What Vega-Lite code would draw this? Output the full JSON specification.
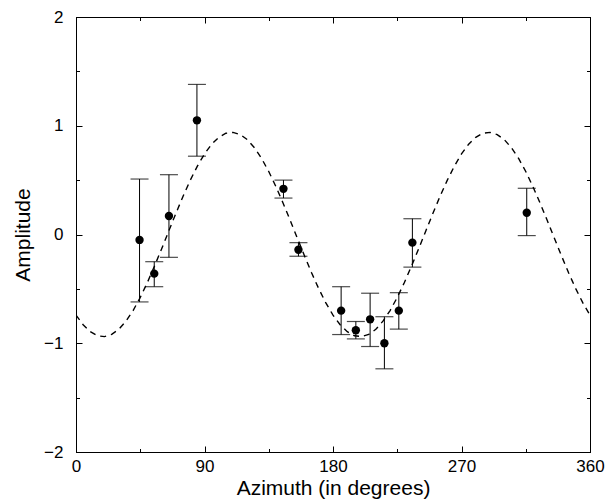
{
  "$schema": "https://vega.github.io/schema/vega-lite/v6.json",
  "autosize": {"type": "none"},
  "padding": {"left": 76, "top": 17, "right": 17, "bottom": 50},
  "width": 514,
  "height": 435,
  "background": "white",
  "config": {
    "view": {"stroke": "black", "strokeWidth": 1},
    "axis": {
      "labelFont": "Liberation Sans",
      "titleFont": "Liberation Sans",
      "labelFontSize": 17,
      "titleFontSize": 21,
      "titleFontWeight": "normal",
      "labelColor": "black",
      "titleColor": "black",
      "domainColor": "black",
      "tickColor": "black",
      "grid": false,
      "labelFlush": false,
      "labelOverlap": false
    }
  },
  "datasets": {
    "curve": [
      {"az": 0, "amp": -0.741}, {"az": 5, "amp": -0.83}, {"az": 10, "amp": -0.894}, {"az": 15, "amp": -0.931},
      {"az": 20, "amp": -0.939}, {"az": 25, "amp": -0.919}, {"az": 30, "amp": -0.872}, {"az": 35, "amp": -0.797},
      {"az": 40, "amp": -0.699}, {"az": 45, "amp": -0.579}, {"az": 50, "amp": -0.441}, {"az": 55, "amp": -0.29},
      {"az": 60, "amp": -0.131}, {"az": 65, "amp": 0.033}, {"az": 70, "amp": 0.195}, {"az": 75, "amp": 0.352},
      {"az": 80, "amp": 0.498}, {"az": 85, "amp": 0.629}, {"az": 90, "amp": 0.741}, {"az": 95, "amp": 0.83},
      {"az": 100, "amp": 0.894}, {"az": 105, "amp": 0.931}, {"az": 110, "amp": 0.939}, {"az": 115, "amp": 0.919},
      {"az": 120, "amp": 0.872}, {"az": 125, "amp": 0.797}, {"az": 130, "amp": 0.699}, {"az": 135, "amp": 0.579},
      {"az": 140, "amp": 0.441}, {"az": 145, "amp": 0.29}, {"az": 150, "amp": 0.131}, {"az": 155, "amp": -0.033},
      {"az": 160, "amp": -0.195}, {"az": 165, "amp": -0.352}, {"az": 170, "amp": -0.498}, {"az": 175, "amp": -0.629},
      {"az": 180, "amp": -0.741}, {"az": 185, "amp": -0.83}, {"az": 190, "amp": -0.894}, {"az": 195, "amp": -0.931},
      {"az": 200, "amp": -0.939}, {"az": 205, "amp": -0.919}, {"az": 210, "amp": -0.872}, {"az": 215, "amp": -0.797},
      {"az": 220, "amp": -0.699}, {"az": 225, "amp": -0.579}, {"az": 230, "amp": -0.441}, {"az": 235, "amp": -0.29},
      {"az": 240, "amp": -0.131}, {"az": 245, "amp": 0.033}, {"az": 250, "amp": 0.195}, {"az": 255, "amp": 0.352},
      {"az": 260, "amp": 0.498}, {"az": 265, "amp": 0.629}, {"az": 270, "amp": 0.741}, {"az": 275, "amp": 0.83},
      {"az": 280, "amp": 0.894}, {"az": 285, "amp": 0.931}, {"az": 290, "amp": 0.939}, {"az": 295, "amp": 0.919},
      {"az": 300, "amp": 0.872}, {"az": 305, "amp": 0.797}, {"az": 310, "amp": 0.699}, {"az": 315, "amp": 0.579},
      {"az": 320, "amp": 0.441}, {"az": 325, "amp": 0.29}, {"az": 330, "amp": 0.131}, {"az": 335, "amp": -0.033},
      {"az": 340, "amp": -0.195}, {"az": 345, "amp": -0.352}, {"az": 350, "amp": -0.498}, {"az": 355, "amp": -0.629},
      {"az": 360, "amp": -0.741}
    ],
    "obs": [
      {"az": 44.5, "amp": -0.05, "lo": -0.62, "hi": 0.51},
      {"az": 54.8, "amp": -0.36, "lo": -0.48, "hi": -0.25},
      {"az": 65.1, "amp": 0.17, "lo": -0.21, "hi": 0.55},
      {"az": 84.7, "amp": 1.05, "lo": 0.72, "hi": 1.38},
      {"az": 145.3, "amp": 0.42, "lo": 0.335, "hi": 0.5},
      {"az": 155.8, "amp": -0.14, "lo": -0.2, "hi": -0.075},
      {"az": 185.7, "amp": -0.7, "lo": -0.92, "hi": -0.48},
      {"az": 196.0, "amp": -0.88, "lo": -0.96, "hi": -0.8},
      {"az": 206.0, "amp": -0.78, "lo": -1.03, "hi": -0.54},
      {"az": 216.0, "amp": -1.0, "lo": -1.235, "hi": -0.756},
      {"az": 226.1, "amp": -0.7, "lo": -0.87, "hi": -0.535},
      {"az": 235.6, "amp": -0.075, "lo": -0.3, "hi": 0.145},
      {"az": 315.7, "amp": 0.2, "lo": -0.01, "hi": 0.425}
    ]
  },
  "resolve": {"axis": {"x": "independent", "y": "independent"}},
  "layer": [
    {
      "data": {"name": "curve"},
      "mark": {"type": "line", "color": "black", "strokeWidth": 1.4, "strokeDash": [6, 5], "clip": true},
      "encoding": {
        "x": {
          "field": "az", "type": "quantitative",
          "scale": {"domain": [0, 360], "nice": false, "zero": false},
          "axis": {
            "orient": "bottom",
            "title": "Azimuth (in degrees)",
            "values": [0, 90, 180, 270, 360],
            "format": "d",
            "tickSize": -6,
            "labelPadding": 12,
            "titlePadding": 3
          }
        },
        "y": {
          "field": "amp", "type": "quantitative",
          "scale": {"domain": [-2, 2], "nice": false, "zero": false},
          "axis": {
            "orient": "left",
            "title": "Amplitude",
            "values": [-2, -1, 0, 1, 2],
            "format": "d",
            "tickSize": -6,
            "labelPadding": 19,
            "titlePadding": 10
          }
        }
      }
    },
    {
      "data": {"name": "obs"},
      "mark": {"type": "rule", "color": "black", "strokeWidth": 1},
      "encoding": {
        "x": {
          "field": "az", "type": "quantitative",
          "axis": {"orient": "top", "title": null, "labels": false, "values": [0, 90, 180, 270, 360], "tickSize": -6}
        },
        "y": {
          "field": "lo", "type": "quantitative",
          "axis": {"orient": "right", "title": null, "labels": false, "values": [-2, -1, 0, 1, 2], "tickSize": -6}
        },
        "y2": {"field": "hi"}
      }
    },
    {
      "data": {"name": "obs"},
      "mark": {"type": "tick", "orient": "horizontal", "color": "black", "size": 18, "thickness": 1.2},
      "encoding": {
        "x": {
          "field": "az", "type": "quantitative",
          "axis": {"orient": "bottom", "title": null, "labels": false, "values": [45, 135, 225, 315], "tickSize": -3.5}
        },
        "y": {
          "field": "lo", "type": "quantitative",
          "axis": {"orient": "left", "title": null, "labels": false, "values": [-1.5, -0.5, 0.5, 1.5], "tickSize": -3.5}
        }
      }
    },
    {
      "data": {"name": "obs"},
      "mark": {"type": "tick", "orient": "horizontal", "color": "black", "size": 18, "thickness": 1.2},
      "encoding": {
        "x": {
          "field": "az", "type": "quantitative",
          "axis": {"orient": "top", "title": null, "labels": false, "values": [45, 135, 225, 315], "tickSize": -3.5}
        },
        "y": {
          "field": "hi", "type": "quantitative",
          "axis": {"orient": "right", "title": null, "labels": false, "values": [-1.5, -0.5, 0.5, 1.5], "tickSize": -3.5}
        }
      }
    },
    {
      "data": {"name": "obs"},
      "mark": {"type": "circle", "color": "black", "opacity": 1, "size": 70},
      "encoding": {
        "x": {"field": "az", "type": "quantitative", "axis": null},
        "y": {"field": "amp", "type": "quantitative", "axis": null}
      }
    }
  ]
}
